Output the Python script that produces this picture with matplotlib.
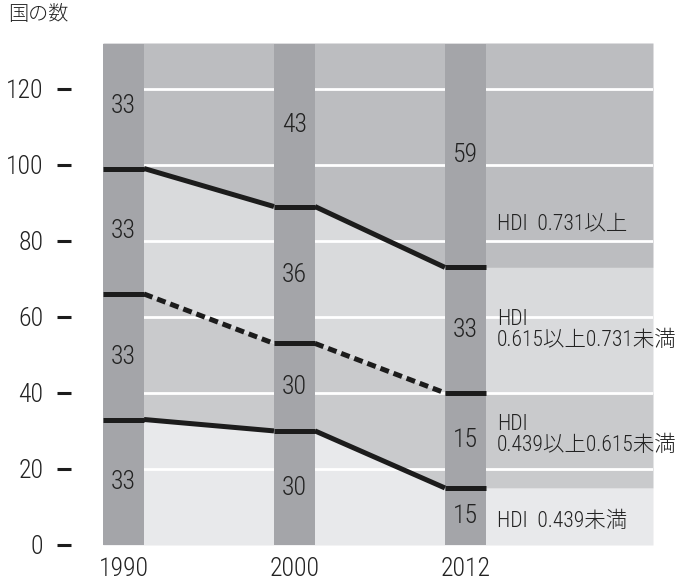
import matplotlib
matplotlib.use("Agg")
import matplotlib.pyplot as plt
from matplotlib import font_manager
import numpy as np

# ---- data ----
years = ["1990", "2000", "2012"]
# cumulative boundary levels of the three lines (low, middle, high)
line_low = [33, 30, 15]
line_mid = [66, 53, 40]
line_high = [99, 89, 73]
total = 132
# numbers printed in the bars (bottom -> top)
counts_1990 = [33, 33, 33, 33]
counts_2000 = [30, 30, 36, 43]
counts_2012 = [15, 15, 33, 59]
group_labels = ["HDI  0.439未満",
                "HDI\n0.439以上0.615未満",
                "HDI\n0.615以上0.731未満",
                "HDI  0.731以上"]
group_label_y = [6.3, 29.0, 56.6, 84.5]
yticks = [0, 20, 40, 60, 80, 100, 120]

# ---- fonts ----
names = {f.name for f in font_manager.fontManager.ttflist}
narrow = "Liberation Sans"
for cand in ["Roboto Condensed", "Barlow Condensed", "Archivo Narrow", "PT Sans Narrow"]:
    if cand in names:
        narrow = cand
        break
plt.rcParams["font.family"] = [narrow, "Noto Sans CJK JP", "DejaVu Sans"]
plt.rcParams["font.weight"] = "light"

# ---- colours ----
c_bar = "#a4a5a9"
c_bands = ["#e8e9eb", "#c9cacc", "#d9dadc", "#bcbdc0"]
c_line = "#1c1c1c"
c_text = "#222222"

fig = plt.figure(figsize=(6.85, 5.82), dpi=100)
L, R, T, B = 103, 653, 43, 545
W, H = 685, 582
ax = fig.add_axes([L / W, (H - B) / H, (R - L) / W, (B - T) / H])

bw = 0.24
xpos = np.arange(len(years))
xmax = 3.097
ax.set_xlim(-bw / 2, xmax)
ax.set_ylim(0, total)

# x coordinates of the boundary polylines (bar edges, then flat to the right edge)
xs = []
for x in xpos:
    xs += [x - bw / 2, x + bw / 2]
xs.append(xmax)
xs = np.array(xs)

def expand(vals):
    out = []
    for v in vals:
        out += [v, v]
    out.append(vals[-1])
    return np.array(out, dtype=float)

bounds = [expand([0, 0, 0]), expand(line_low), expand(line_mid),
          expand(line_high), expand([total] * 3)]
for i in range(4):
    ax.fill_between(xs, bounds[i], bounds[i + 1], color=c_bands[i], lw=0, zorder=1)

# white grid lines
for yv in yticks[1:]:
    ax.axhline(yv, color="white", lw=2.0, zorder=2)

# bars
ax.bar(xpos, [total] * 3, width=bw, bottom=-0.3, color=c_bar, zorder=3, lw=0)

# lines
lw = 3.6
for vals, dashed in [(line_low, False), (line_mid, True), (line_high, False)]:
    for i, x in enumerate(xpos):
        ax.plot([x - bw / 2, x + bw / 2], [vals[i], vals[i]], color=c_line,
                lw=lw, solid_capstyle="butt", zorder=5)
        if i < len(xpos) - 1:
            ax.plot([x + bw / 2, xpos[i + 1] - bw / 2], [vals[i], vals[i + 1]],
                    color=c_line, lw=lw, zorder=5,
                    linestyle=(0, (1.8, 1.0)) if dashed else "-",
                    dash_capstyle="butt", solid_capstyle="butt")

# numbers in bars
for i, counts in enumerate([counts_1990, counts_2000, counts_2012]):
    levels = [0, line_low[i], line_mid[i], line_high[i], total]
    for j, c in enumerate(counts):
        ymid = (levels[j] + levels[j + 1]) / 2
        ax.text(xpos[i], ymid, str(c), ha="center", va="center",
                fontsize=18.5, color=c_text, zorder=6)

# group labels on the right
for lab, yv in zip(group_labels, group_label_y):
    ax.text(xpos[-1] + bw / 2 + 0.065, yv, lab, ha="left", va="center",
            fontsize=15.5, color=c_text, linespacing=1.0, zorder=6)

# axes styling
for s in ax.spines.values():
    s.set_visible(False)
ax.spines["left"].set_position(("outward", 23))
ax.set_yticks(yticks)
ax.set_yticklabels([str(v) for v in yticks], fontsize=18.5, color=c_text)
ax.tick_params(axis="y", length=10, width=2.2, color="#1c1c1c", pad=10)
ax.set_xticks(xpos)
ax.set_xticklabels(years, fontsize=18.5, color=c_text)
ax.tick_params(axis="x", length=0, pad=9)

fig.text(8 / W, 1 - 4 / H, "国の数", ha="left", va="top", fontsize=14.5,
         color=c_text, family=["Noto Sans CJK JP", "DejaVu Sans"])

fig.savefig("out.png", dpi=100)
